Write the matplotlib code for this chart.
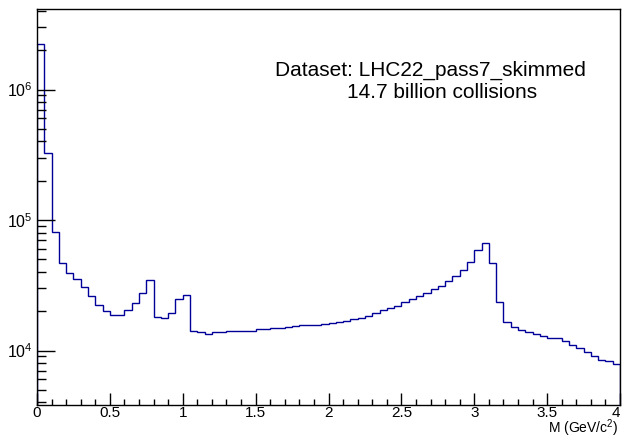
import numpy as np
import matplotlib
matplotlib.use("Agg")
import matplotlib.pyplot as plt
from matplotlib.ticker import MultipleLocator, LogLocator, NullFormatter

plt.rcParams['font.family'] = ['Liberation Sans', 'DejaVu Sans']
plt.rcParams['mathtext.fontset'] = 'custom'
plt.rcParams['mathtext.rm'] = 'Liberation Sans'
plt.rcParams['mathtext.it'] = 'Liberation Sans:italic'
plt.rcParams['mathtext.default'] = 'regular'

# Histogram: invariant mass, 80 bins of 0.05 GeV/c^2 from 0 to 4
bin_edges = np.linspace(0.0, 4.0, 81)
counts = [
    2.23e6, 3.28e5, 8.05e4, 4.70e4, 3.95e4, 3.55e4, 3.08e4, 2.63e4, 2.23e4, 2.02e4,
    1.87e4, 1.87e4, 2.03e4, 2.30e4, 2.77e4, 3.47e4, 1.82e4, 1.77e4, 1.95e4, 2.49e4,
    2.65e4, 1.42e4, 1.39e4, 1.35e4, 1.39e4, 1.39e4, 1.40e4, 1.41e4, 1.42e4, 1.42e4,
    1.45e4, 1.47e4, 1.48e4, 1.50e4, 1.51e4, 1.55e4, 1.56e4, 1.56e4, 1.57e4, 1.60e4,
    1.62e4, 1.64e4, 1.68e4, 1.74e4, 1.78e4, 1.85e4, 1.93e4, 2.04e4, 2.11e4, 2.20e4,
    2.34e4, 2.49e4, 2.63e4, 2.77e4, 2.96e4, 3.14e4, 3.39e4, 3.72e4, 4.14e4, 4.79e4,
    5.89e4, 6.66e4, 4.66e4, 2.34e4, 1.64e4, 1.52e4, 1.44e4, 1.38e4, 1.34e4, 1.30e4,
    1.25e4, 1.24e4, 1.18e4, 1.11e4, 1.05e4, 9.80e3, 9.10e3, 8.46e3, 8.36e3, 7.84e3,
]
x_ticks_major = [0, 0.5, 1, 1.5, 2, 2.5, 3, 3.5, 4]
x_tick_labels = ['0', '0.5', '1', '1.5', '2', '2.5', '3', '3.5', '4']
x_label = 'M (GeV/c$^{2}$)'
info_lines = ['Dataset: LHC22_pass7_skimmed', '14.7 billion collisions']

W, H = 622, 440
fig = plt.figure(figsize=(W / 100, H / 100), dpi=100)
ax = fig.add_axes([37 / W, (H - 405) / H, (620 - 37) / W, (405 - 9) / H])

ax.stairs(counts, bin_edges, color='#000099', linewidth=1.0)

ax.set_yscale('log')
ax.set_xlim(0, 4)
ax.set_ylim(3824, 4.14e6)

ax.set_xticks(x_ticks_major)
ax.set_xticklabels(x_tick_labels)
ax.xaxis.set_minor_locator(MultipleLocator(0.1))
ax.yaxis.set_major_locator(LogLocator(base=10, numticks=10))
ax.yaxis.set_minor_locator(LogLocator(base=10, subs=np.arange(2, 10), numticks=20))
ax.yaxis.set_minor_formatter(NullFormatter())

ax.tick_params(axis='both', which='both', direction='in', top=False, right=False,
               color='black', width=1.0, labelcolor='black')
ax.tick_params(axis='x', which='major', length=8.6, pad=1.0, labelsize=11)
ax.tick_params(axis='x', which='minor', length=4.3)
ax.tick_params(axis='y', which='major', length=12.6, pad=3, labelsize=11.5)
ax.tick_params(axis='y', which='minor', length=6.3)
for lbl in ax.get_xticklabels():
    if lbl.get_text() == '4':
        lbl.set_horizontalalignment('right')

for s in ax.spines.values():
    s.set_color('black')
    s.set_linewidth(1.0)

fig.text(618 / W, (H - 439) / H, x_label, fontsize=10, ha='right', va='bottom')

ax.text((275 - 37) / 583, (405 - 70) / 396, info_lines[0], transform=ax.transAxes,
        fontsize=15, ha='left', va='center')
ax.text((347 - 37) / 583, (405 - 92) / 396, info_lines[1], transform=ax.transAxes,
        fontsize=15, ha='left', va='center')

fig.savefig('out.png', dpi=100)
